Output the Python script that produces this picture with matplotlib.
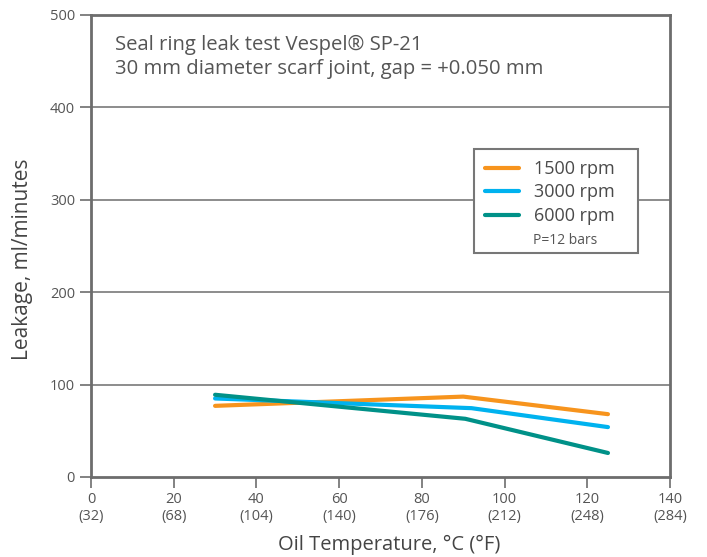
import matplotlib
matplotlib.use("Agg")
import matplotlib.pyplot as plt
from matplotlib.lines import Line2D
from matplotlib.patches import Rectangle

plt.rcParams['font.family'] = ['Open Sans', 'DejaVu Sans']

x_1500 = [30, 90, 125]
y_1500 = [77, 87, 68]
x_3000 = [30, 92, 125]
y_3000 = [85, 74.5, 54]
x_6000 = [30, 90.5, 125]
y_6000 = [89, 63, 26]

series_labels = ["1500 rpm", "3000 rpm", "6000 rpm"]
colors = ["#F7941D", "#00B2EF", "#009188"]

xticks = [0, 20, 40, 60, 80, 100, 120, 140]
xtick_labels = ["0\n(32)", "20\n(68)", "40\n(104)", "60\n(140)", "80\n(176)",
                "100\n(212)", "120\n(248)", "140\n(284)"]
yticks = [0, 100, 200, 300, 400, 500]

W, H = 707, 557
fig = plt.figure(figsize=(W/100, H/100), dpi=100)
L, R, T, B = 91, 670, 15, 477
ax = fig.add_axes([L/W, 1-B/H, (R-L)/W, (B-T)/H])

for xs, ys, c, lab in zip([x_1500, x_3000, x_6000], [y_1500, y_3000, y_6000], colors, series_labels):
    ax.plot(xs, ys, color=c, lw=3, solid_capstyle='round', label=lab, zorder=3)

ax.set_xlim(0, 140)
ax.set_ylim(0, 500)
ax.set_xticks(xticks)
ax.set_xticklabels(xtick_labels)
ax.set_yticks(yticks)
for yv in [100, 200, 300, 400]:
    ax.axhline(yv, color="#6d6d6d", lw=1.1, zorder=1)

for s in ax.spines.values():
    s.set_color("#6d6d6d")
    s.set_linewidth(2)
ax.tick_params(axis='both', direction='out', length=8, width=1.2, color="#6d6d6d",
               labelcolor="#555555", labelsize=10.5)
ax.tick_params(axis='x', pad=3)

ax.set_xlabel("Oil Temperature, °C (°F)", fontsize=14.5, color="#444444")
ax.set_ylabel("Leakage, ml/minutes", fontsize=15, color="#444444")
ax.xaxis.set_label_coords((389-L)/(R-L), -(545-B)/(B-T))
ax.yaxis.set_label_coords(-(L-23)/(R-L), (B-259)/(B-T))
ax.xaxis.label.set_va('center')
ax.yaxis.label.set_va('center')

ax.text(115/W, 1-57/H, "Seal ring leak test Vespel® SP-21\n30 mm diameter scarf joint, gap = +0.050 mm",
        transform=fig.transFigure, fontsize=14.6, color="#555555", va='center', ha='left',
        linespacing=1.22)

# legend frame
ax.add_patch(Rectangle(((474-L)/(R-L), (B-253)/(B-T)), (638-474)/(R-L), (253-149)/(B-T),
                       transform=ax.transAxes, facecolor='white', edgecolor="#777777",
                       lw=1.5, zorder=4))

handles = [Line2D([], [], color=c, lw=3, solid_capstyle='round') for c in colors]
leg = ax.legend(handles, series_labels, loc='upper left',
                bbox_to_anchor=((476-L)/(R-L), (B-151)/(B-T)), fontsize=13,
                frameon=False, handlelength=1.9,
                labelspacing=0.3, borderpad=0.5, handletextpad=0.8, borderaxespad=0)
leg.set_zorder(5)
for t in leg.get_texts():
    t.set_color("#4a4a4a")

fig.text(533/W, 1-240/H, "P=12 bars", fontsize=10, color="#555555", ha='left', va='center',
         zorder=6)

fig.savefig("out.png", dpi=100)
